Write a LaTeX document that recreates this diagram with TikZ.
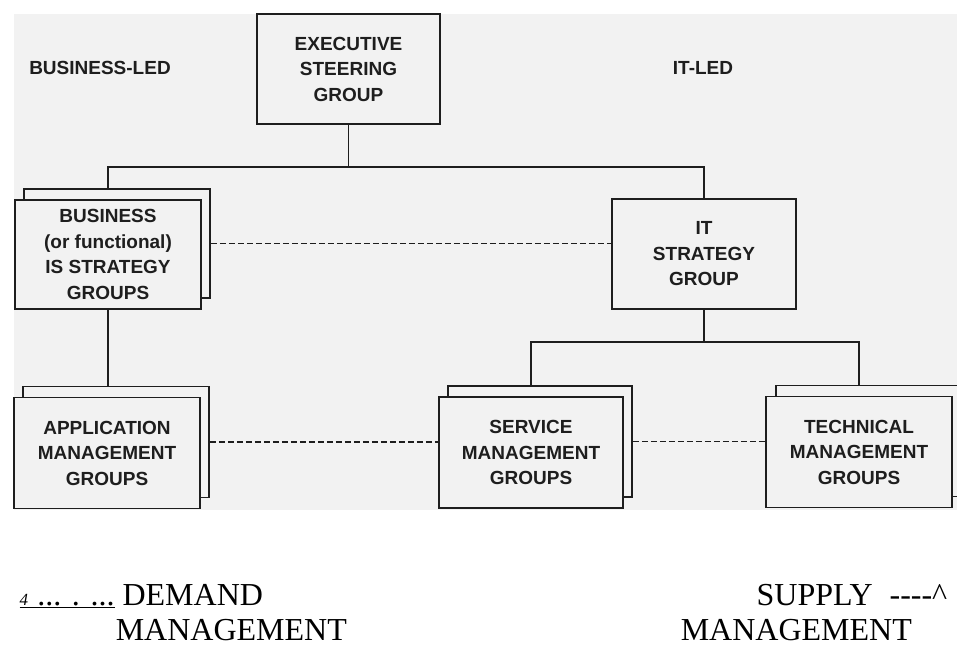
\documentclass[tikz,border=0pt]{standalone}
\usepackage{fontspec}
\setmainfont{Liberation Serif}
\newfontfamily\boxfont{Liberation Sans}
\definecolor{scan}{RGB}{242,242,242}
\definecolor{ink}{RGB}{30,30,30}
\begin{document}
\begin{tikzpicture}[
    x=1pt, y=-1pt,
    line width=1.5pt,
    every node/.style={text=ink},
    group/.style={draw=ink, fill=scan, minimum width=186pt, minimum height=111pt, inner sep=0pt, align=center, font=\boxfont\bfseries\fontsize{19}{25.5}\selectfont},
    head/.style={font=\boxfont\bfseries\fontsize{19}{23}\selectfont},
    plain/.style={inner sep=0pt, text=black, font=\fontsize{32}{38}\selectfont},
    link/.style={draw=ink},
    peer/.style={draw=ink, dash pattern=on 6pt off 3pt}
]
\clip (0,0) rectangle (957,648);
\fill[white] (0,0) rectangle (957,648);
\fill[scan] (14,14) rectangle (957,510);

\node (exec)     [group, minimum width=183pt, minimum height=110pt] at (348.5,69) {EXECUTIVE\\STEERING\\GROUP};
\node (bizled)   [head] at (100,68)  {BUSINESS-LED};
\node (itled)    [head] at (703,68)  {IT-LED};

\node (bizback)  [group, minimum height=109pt] at (117,243.5) {};
\node (biz)      [group, minimum height=109pt] at (108,254.5) {BUSINESS\\(or functional)\\IS STRATEGY\\GROUPS};
\node (it)       [group, minimum width=184pt, minimum height=110pt] at (704,254) {IT\\STRATEGY\\GROUP};

\node (appback)  [group] at (116,442)   {};
\node (app)      [group] at (107,453)   {APPLICATION\\MANAGEMENT\\GROUPS};
\node (svcback)  [group, minimum width=184pt] at (540,441.5) {};
\node (svc)      [group, minimum width=184pt] at (531,452.5) {SERVICE\\MANAGEMENT\\GROUPS};
\node (techback) [group] at (869,441)   {};
\node (tech)     [group] at (859,452)   {TECHNICAL\\MANAGEMENT\\GROUPS};

\coordinate (split) at (348.5,167);
\coordinate (fork)  at (704,342);

% Edges
\draw[link] (exec) -- (split);
\draw[link] (split) -| (bizback.north -| biz.north);
\draw[link] (split) -| (it.north);

\draw[link] (biz.south) -- (biz.south |- appback.north);

\draw[link] (it) -- (fork);
\draw[link] (fork) -| (svcback.north -| svc.north);
\draw[link] (fork) -| (techback.north -| tech.north);

\draw[peer] (bizback.east) -- (bizback.east -| it.west);
\draw[peer] (appback.east) -- (appback.east -| svc.west);
\draw[peer] (svcback.east) -- (svcback.east -| tech.west);

% demand / supply
\node (demand) [plain, anchor=base west] at (19,605)  {\underline{{\fontsize{17}{20}\selectfont\textit{4}}\hspace{9pt}... . ...}\ DEMAND};
\node (dmgmt)  [plain, anchor=base west] at (115,640) {MANAGEMENT};
\node (supply) [plain, anchor=base east] at (948,605) {SUPPLY\hspace{17pt}{-}{-}{-}{-}\textasciicircum};
\node (smgmt)  [plain, anchor=base west] at (680,640) {MANAGEMENT};

\end{tikzpicture}
\end{document}
